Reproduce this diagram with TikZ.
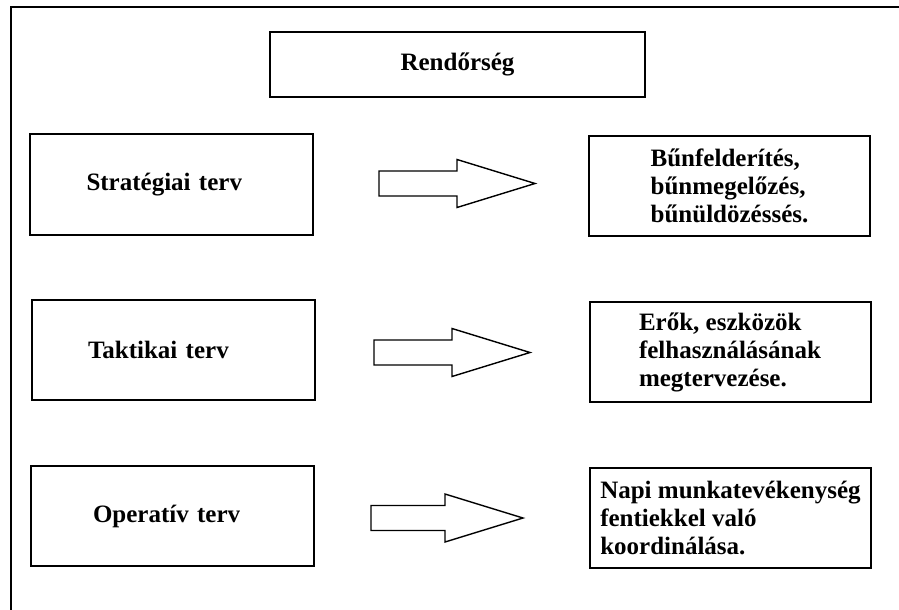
\documentclass[tikz,border=0pt]{standalone}
\usepackage{fontspec}
\setmainfont{Liberation Serif}
\tikzset{
  planbox/.style={draw, line width=1pt, minimum width=141.5pt, minimum height=50pt,
    text width=85pt, inner xsep=28pt, align=left,
    font=\bfseries\fontsize{12.5}{14}\selectfont},
  goalbox/.style={draw, line width=1pt, minimum width=140.5pt, minimum height=50pt,
    align=left, inner xsep=2pt, font=\bfseries\fontsize{12.5}{14}\selectfont},
  blockarrow/.style={line width=0.7pt, line join=miter}
}

\begin{document}
\begin{tikzpicture}[x=0.5pt, y=-0.5pt]
            \useasboundingbox (0,0) rectangle (899,610);
            % frame
            \draw[line width=1.1pt] (899,7) -- (11,7) -- (11,610);

            \node[goalbox, minimum width=187.5pt, minimum height=32.5pt, align=center]
              (police) at (457.5,64.5) {Rend\H{o}rs\'eg};

            % plans
            \node[planbox] (strat) at (171.5,184.5) {Strat\'egiai terv};
            \node[planbox] (takt) at (173,350) {Taktikai terv};
            \node[planbox] (oper) at (172,516) {\hspace*{3pt}Operat\'iv terv};

            % tasks
            \node[goalbox] (bun) at (729.5,186)
              {B\H{u}nfelder\'it\'es,\\ b\H{u}nmegel\H{o}z\'es,\\ b\H{u}n\"uld\"oz\'ess\'es.};
            \node[goalbox] (ero) at (730,352)
              {Er\H{o}k, eszk\"oz\"ok\\ felhaszn\'al\'as\'anak\\ megtervez\'ese.};
            \node[goalbox] (napi) at (730.5,517.5)
              {Napi munkatev\'ekenys\'eg\\ fentiekkel val\'o\\ koordin\'al\'asa.};

            % arrows
            \foreach \ax/\ay/\tx in {379/183.5/535, 374/352.5/530, 371/518/523} {
              \draw[blockarrow]
              (\ax,\ay-12.5)
              -- (\tx-78,\ay-12.5)
              -- (\tx-78,\ay-24)
              -- (\tx,\ay)
              -- (\tx-78,\ay+24)
              -- (\tx-78,\ay+12.5)
              -- (\ax,\ay+12.5)
              -- cycle
              ;
            }
          \end{tikzpicture}
\end{document}
